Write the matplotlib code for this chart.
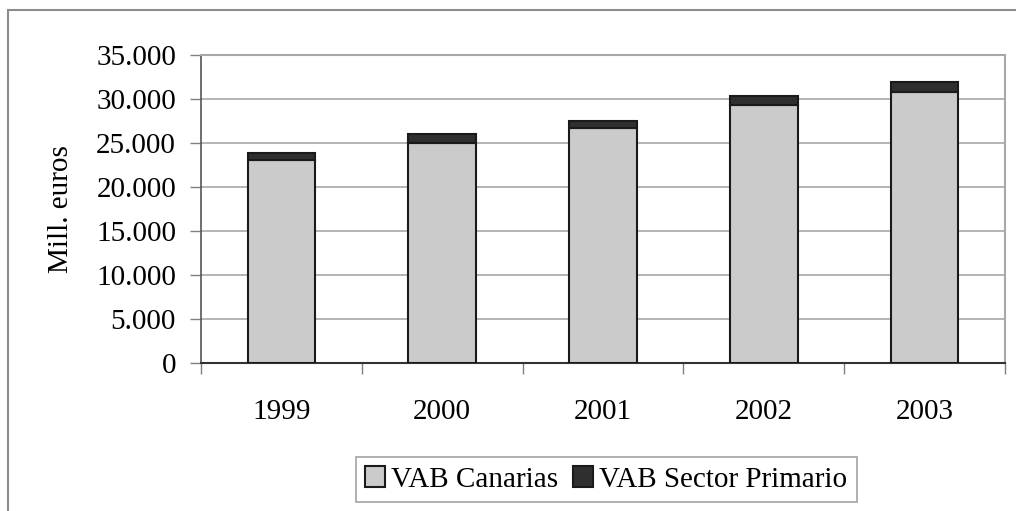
import matplotlib
matplotlib.use("Agg")
from matplotlib import pyplot as plt
from matplotlib.ticker import FuncFormatter, FixedLocator
from matplotlib.patches import Rectangle
import numpy as np

years = ["1999", "2000", "2001", "2002", "2003"]
vab_canarias = [23050, 25000, 26700, 29300, 30800]
vab_primario = [800, 1000, 800, 1000, 1150]
yticks = [0, 5000, 10000, 15000, 20000, 25000, 30000, 35000]

plt.rcParams['font.family'] = ['Liberation Serif', 'DejaVu Serif']

fig = plt.figure(figsize=(10.16, 5.11), dpi=100)
ax = fig.add_axes([201/1016, 1-363/511, (1005-201)/1016, (363-55)/511])

# outer chart frame (only left and top edges visible)
fig.patches.append(Rectangle((8/1016, -0.2), 1.2, 1.2 - 10/511,
                             transform=fig.transFigure, fill=False,
                             edgecolor='#8c8c8c', linewidth=1.5))

x = np.arange(len(years))
ax.bar(x, vab_canarias, width=0.42, color='#cbcbcb', edgecolor='#1a1a1a',
       linewidth=1.5, label='VAB Canarias', zorder=3)
ax.bar(x, vab_primario, width=0.42, bottom=vab_canarias, color='#2f2f2f',
       edgecolor='#1a1a1a', linewidth=1.5, label='VAB Sector Primario', zorder=3)

ax.set_xlim(-0.5, len(years) - 0.5)
ax.set_ylim(0, 35000)
ax.set_yticks(yticks)
ax.yaxis.set_major_formatter(FuncFormatter(lambda v, p: f"{int(v):,}".replace(",", ".")))
ax.yaxis.grid(True, color='#a8a8a8', linewidth=1.2, zorder=0)

ax.set_xticks(x)
ax.set_xticklabels(years)
ax.xaxis.set_minor_locator(FixedLocator(np.arange(-0.5, len(years), 1.0)))
ax.tick_params(axis='x', which='major', length=0, pad=26, labelsize=21)
ax.tick_params(axis='x', which='minor', length=8, width=1, color='#808080')
ax.tick_params(axis='y', length=8, width=1, color='#808080', labelsize=21, pad=10)

for side in ('top', 'right'):
    ax.spines[side].set_color('#a8a8a8')
    ax.spines[side].set_linewidth(1.5)
ax.spines['left'].set_color('#555555')
ax.spines['bottom'].set_color('#333333')
ax.spines['left'].set_linewidth(1.2)
ax.spines['bottom'].set_linewidth(1.5)

ax.set_ylabel("Mill. euros", fontsize=21, labelpad=16)

leg = ax.legend(loc='upper center', bbox_to_anchor=(0.504, -0.305), ncol=2,
                fontsize=21, frameon=True, fancybox=False, handlelength=0.7,
                handleheight=0.7, handletextpad=0.2, columnspacing=0.5,
                borderpad=0.32, borderaxespad=0)
leg.get_frame().set_edgecolor('#8c8c8c')
leg.get_frame().set_linewidth(1.2)

fig.savefig("out.png", dpi=100)
